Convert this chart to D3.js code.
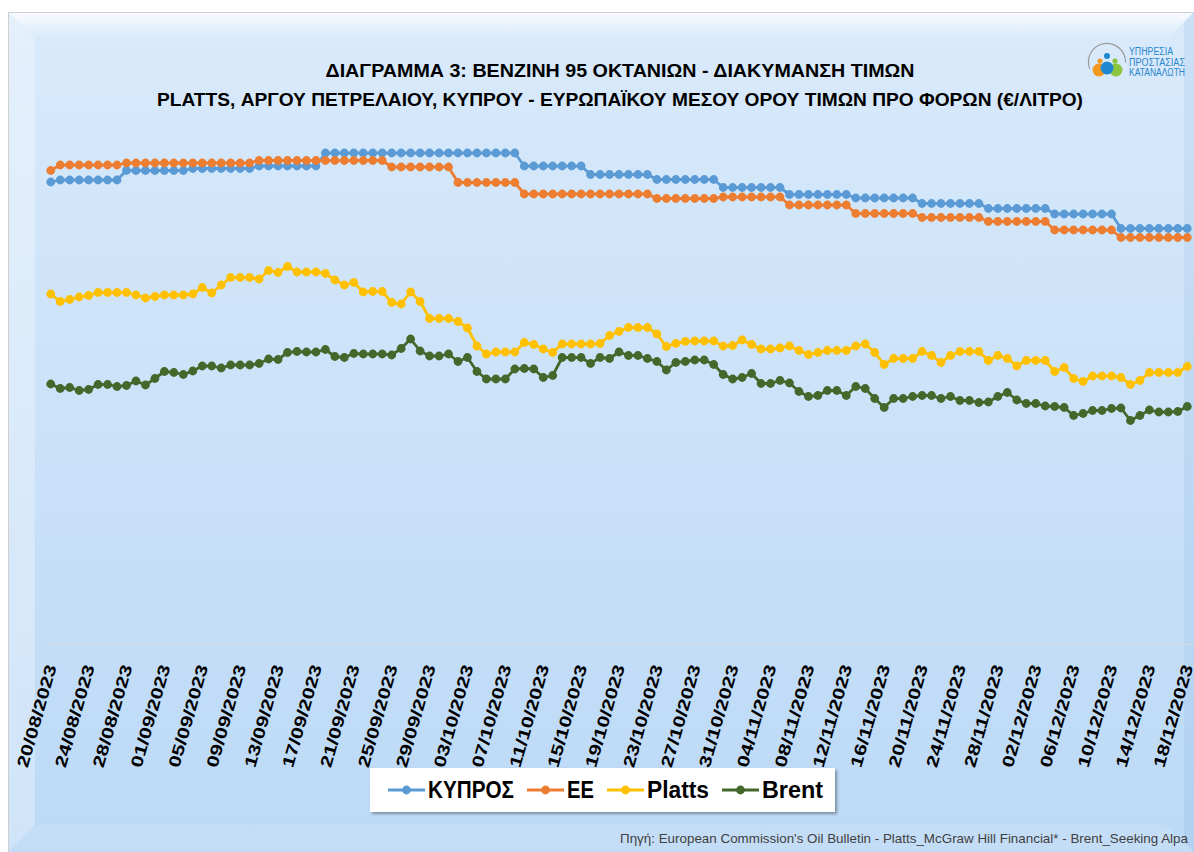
<!DOCTYPE html>
<html>
<head>
<meta charset="utf-8">
<script src="https://cdn.jsdelivr.net/npm/d3@7"></script>
<style>
  body { margin: 0; background: #fff; }
  svg { display: block; }
</style>
</head>
<body>
<svg id="chart"></svg>
<script>
const width = 1194
const height = 852

// category ticks, every 4th day
const tickLabels = [
  '20/08/2023', '24/08/2023', '28/08/2023', '01/09/2023', '05/09/2023', '09/09/2023',
  '13/09/2023', '17/09/2023', '21/09/2023', '25/09/2023', '29/09/2023', '03/10/2023',
  '07/10/2023', '11/10/2023', '15/10/2023', '19/10/2023', '23/10/2023', '27/10/2023',
  '31/10/2023', '04/11/2023', '08/11/2023', '12/11/2023', '16/11/2023', '20/11/2023',
  '24/11/2023', '28/11/2023', '02/12/2023', '06/12/2023', '10/12/2023', '14/12/2023',
  '18/12/2023'
]

// €/litre, one value per day (20/08 .. 18/12)
const cyprus = [
  0.924,
  0.928, 0.928, 0.928, 0.928, 0.928, 0.928, 0.928,
  0.947, 0.947, 0.947, 0.947, 0.947, 0.947, 0.947,
  0.951, 0.951, 0.951, 0.951, 0.951, 0.951, 0.951,
  0.956, 0.956, 0.956, 0.956, 0.956, 0.956, 0.956,
  0.982, 0.982, 0.982, 0.982, 0.982, 0.982, 0.982,
  0.982, 0.982, 0.982, 0.982, 0.982, 0.982, 0.982,
  0.982, 0.982, 0.982, 0.982, 0.982, 0.982, 0.982,
  0.956, 0.956, 0.956, 0.956, 0.956, 0.956, 0.956,
  0.939, 0.939, 0.939, 0.939, 0.939, 0.939, 0.939,
  0.929, 0.929, 0.929, 0.929, 0.929, 0.929, 0.929,
  0.913, 0.913, 0.913, 0.913, 0.913, 0.913, 0.913,
  0.899, 0.899, 0.899, 0.899, 0.899, 0.899, 0.899,
  0.892, 0.892, 0.892, 0.892, 0.892, 0.892, 0.892,
  0.881, 0.881, 0.881, 0.881, 0.881, 0.881, 0.881,
  0.871, 0.871, 0.871, 0.871, 0.871, 0.871, 0.871,
  0.860, 0.860, 0.860, 0.860, 0.860, 0.860, 0.860,
  0.831, 0.831, 0.831, 0.831, 0.831, 0.831, 0.831, 0.831
]

const eu = [
  0.947,
  0.958, 0.958, 0.958, 0.958, 0.958, 0.958, 0.958,
  0.962, 0.962, 0.962, 0.962, 0.962, 0.962, 0.962,
  0.962, 0.962, 0.962, 0.962, 0.962, 0.962, 0.962,
  0.967, 0.967, 0.967, 0.967, 0.967, 0.967, 0.967,
  0.967, 0.967, 0.967, 0.967, 0.967, 0.967, 0.967,
  0.954, 0.954, 0.954, 0.954, 0.954, 0.954, 0.954,
  0.923, 0.923, 0.923, 0.923, 0.923, 0.923, 0.923,
  0.900, 0.900, 0.900, 0.900, 0.900, 0.900, 0.900,
  0.900, 0.900, 0.900, 0.900, 0.900, 0.900, 0.900,
  0.891, 0.891, 0.891, 0.891, 0.891, 0.891, 0.891,
  0.894, 0.894, 0.894, 0.894, 0.894, 0.894, 0.894,
  0.878, 0.878, 0.878, 0.878, 0.878, 0.878, 0.878,
  0.861, 0.861, 0.861, 0.861, 0.861, 0.861, 0.861,
  0.853, 0.853, 0.853, 0.853, 0.853, 0.853, 0.853,
  0.845, 0.845, 0.845, 0.845, 0.845, 0.845, 0.845,
  0.828, 0.828, 0.828, 0.828, 0.828, 0.828, 0.828,
  0.813, 0.813, 0.813, 0.813, 0.813, 0.813, 0.813, 0.813
]

const platts = [
  0.700,
  0.685, 0.689, 0.694, 0.697, 0.703, 0.703, 0.703,
  0.703, 0.698, 0.692, 0.695, 0.698, 0.698, 0.698,
  0.700, 0.713, 0.702, 0.718, 0.733, 0.733, 0.733,
  0.730, 0.747, 0.743, 0.755, 0.744, 0.744, 0.744,
  0.741, 0.728, 0.718, 0.723, 0.704, 0.705, 0.705,
  0.683, 0.680, 0.704, 0.685, 0.651, 0.651, 0.651,
  0.645, 0.632, 0.596, 0.580, 0.584, 0.584, 0.584,
  0.603, 0.599, 0.590, 0.583, 0.600, 0.600, 0.600,
  0.600, 0.601, 0.617, 0.625, 0.633, 0.633, 0.633,
  0.620, 0.595, 0.601, 0.605, 0.606, 0.606, 0.606,
  0.596, 0.597, 0.608, 0.599, 0.590, 0.590, 0.592,
  0.596, 0.587, 0.579, 0.583, 0.587, 0.587, 0.587,
  0.596, 0.600, 0.583, 0.559, 0.571, 0.571, 0.571,
  0.585, 0.577, 0.563, 0.577, 0.585, 0.585, 0.585,
  0.567, 0.577, 0.571, 0.556, 0.567, 0.567, 0.567,
  0.545, 0.553, 0.531, 0.525, 0.536, 0.536, 0.536,
  0.533, 0.519, 0.527, 0.543, 0.543, 0.543, 0.543, 0.555
]

const brent = [
  0.520,
  0.511, 0.513, 0.507, 0.509, 0.519, 0.519, 0.515,
  0.517, 0.526, 0.518, 0.531, 0.545, 0.543, 0.539,
  0.546, 0.556, 0.556, 0.552, 0.558, 0.558, 0.558,
  0.561, 0.570, 0.569, 0.583, 0.585, 0.584, 0.584,
  0.589, 0.575, 0.573, 0.581, 0.580, 0.580, 0.580,
  0.578, 0.591, 0.610, 0.586, 0.576, 0.576, 0.580,
  0.565, 0.573, 0.545, 0.530, 0.530, 0.530, 0.550,
  0.551, 0.550, 0.533, 0.537, 0.573, 0.573, 0.573,
  0.561, 0.573, 0.571, 0.584, 0.577, 0.577, 0.571,
  0.565, 0.548, 0.563, 0.565, 0.568, 0.568, 0.559,
  0.539, 0.530, 0.533, 0.541, 0.521, 0.521, 0.527,
  0.522, 0.505, 0.495, 0.497, 0.507, 0.507, 0.497,
  0.515, 0.511, 0.491, 0.473, 0.491, 0.491, 0.495,
  0.497, 0.497, 0.491, 0.495, 0.487, 0.487, 0.483,
  0.484, 0.495, 0.503, 0.488, 0.481, 0.481, 0.476,
  0.475, 0.473, 0.457, 0.461, 0.467, 0.467, 0.471,
  0.472, 0.447, 0.457, 0.468, 0.464, 0.464, 0.465, 0.475
]

const seriesNames = ['ΚΥΠΡΟΣ', 'ΕΕ', 'Platts', 'Brent']
const seriesColors = ['#5b9bd5', '#ed7d31', '#ffc000', '#43682b']
const seriesValues = [cyprus, eu, platts, brent]

const titleLines = [
  'ΔΙΑΓΡΑΜΜΑ 3: ΒΕΝΖΙΝΗ 95 ΟΚΤΑΝΙΩΝ - ΔΙΑΚΥΜΑΝΣΗ ΤΙΜΩΝ',
  'PLATTS, ΑΡΓΟΥ ΠΕΤΡΕΛΑΙΟΥ, ΚΥΠΡΟΥ - ΕΥΡΩΠΑΪΚΟΥ ΜΕΣΟΥ ΟΡΟΥ ΤΙΜΩΝ ΠΡΟ ΦΟΡΩΝ (€/ΛΙΤΡΟ)'
]
const sourceNote = "Πηγή: European Commission's Oil Bulletin - Platts_McGraw Hill Financial* - Brent_Seeking Alpa"
const logoLines = ['ΥΠΗΡΕΣΙΑ', 'ΠΡΟΣΤΑΣΙΑΣ', 'ΚΑΤΑΝΑΛΩΤΗ']

const font = "'Liberation Sans', Arial, sans-serif"

/* SCALES */
const parseDate = d3.timeParse('%d/%m/%Y')
const fmtDate = d3.timeFormat('%d/%m/%Y')
const days = d3.timeDay.range(parseDate(tickLabels[0]),
  d3.timeDay.offset(parseDate(tickLabels[tickLabels.length - 1]), 1)).map(fmtDate)

const plot = { left: 46, right: 1192, top: 94, bottom: 644 }

const x = d3.scalePoint()
  .domain(days)
  .range([plot.left, plot.right])
  .padding(0.5)

const y = d3.scaleLinear()
  .domain([0, 1.1])
  .range([plot.bottom, plot.top])

const svg = d3.select('#chart')
  .attr('width', width)
  .attr('height', height)

const defs = svg.append('defs')

const bg = defs.append('linearGradient').attr('id', 'bg')
  .attr('x1', 0).attr('y1', 0).attr('x2', 0).attr('y2', 1)
bg.append('stop').attr('offset', '0%').attr('stop-color', '#d9eafb')
bg.append('stop').attr('offset', '100%').attr('stop-color', '#bcd9f6')

const topGlow = defs.append('linearGradient').attr('id', 'topGlow')
  .attr('x1', 0).attr('y1', 0).attr('x2', 0).attr('y2', 1)
topGlow.append('stop').attr('offset', '0%').attr('stop-color', '#fff').attr('stop-opacity', 0.85)
topGlow.append('stop').attr('offset', '100%').attr('stop-color', '#fff').attr('stop-opacity', 0)

const shadow = defs.append('filter').attr('id', 'shadow')
  .attr('x', '-10%').attr('y', '-30%').attr('width', '120%').attr('height', '160%')
shadow.append('feDropShadow')
  .attr('dx', 2).attr('dy', 2).attr('stdDeviation', 1.5)
  .attr('flood-color', '#000').attr('flood-opacity', 0.35)

/* FRAME */
const fx0 = 8, fy0 = 12, fx1 = 1194, fy1 = 852, bevel = 27

svg.append('rect')
  .attr('x', fx0).attr('y', fy0)
  .attr('width', fx1 - fx0).attr('height', fy1 - fy0)
  .attr('fill', 'url(#bg)')

svg.append('polygon')
  .attr('points', [[fx0, fy0], [fx1, fy0], [fx1 - bevel, fy0 + bevel], [fx0 + bevel, fy0 + bevel]].join(' '))
  .attr('fill', 'url(#topGlow)')

svg.append('polygon')
  .attr('points', [[fx0, fy0], [fx0 + bevel, fy0 + bevel], [fx0 + bevel, fy1 - bevel], [fx0, fy1]].join(' '))
  .attr('fill', '#fff').attr('fill-opacity', 0.3)

svg.append('polygon')
  .attr('points', [[fx0, fy1], [fx0 + bevel, fy1 - bevel], [fx1 - bevel, fy1 - bevel], [fx1, fy1]].join(' '))
  .attr('fill', '#fff').attr('fill-opacity', 0.12)

svg.append('polygon')
  .attr('points', [[fx1, fy0], [fx1 - 10, fy0 + 10], [fx1 - 10, fy1 - 10], [fx1, fy1]].join(' '))
  .attr('fill', '#6f9fce').attr('fill-opacity', 0.12)

svg.append('rect')
  .attr('x', fx0 + 0.5).attr('y', fy0 + 0.5)
  .attr('width', fx1 - fx0).attr('height', fy1 - fy0)
  .attr('fill', 'none')
  .attr('stroke', '#cfcfcf')

/* TITLE */
svg.append('g')
  .selectAll('text')
  .data(titleLines)
  .join('text')
  .attr('x', 620)
  .attr('y', (d, i) => 77 + i * 29)
  .attr('text-anchor', 'middle')
  .attr('font-family', font)
  .attr('font-weight', 'bold')
  .attr('font-size', 19)
  .attr('fill', '#000')
  .attr('textLength', (d, i) => [589, 926][i])
  .attr('lengthAdjust', 'spacingAndGlyphs')
  .text(d => d)

/* LOGO */
const logo = svg.append('g').attr('transform', 'translate(1107,62)')
logo.append('path')
  .attr('d', d3.arc()({ innerRadius: 18, outerRadius: 19.2, startAngle: -1.95, endAngle: 1.6 }))
  .attr('fill', '#9a9a9a')
logo.append('circle').attr('cx', -8).attr('cy', 8).attr('r', 6.5).attr('fill', '#f39a1e')
logo.append('circle').attr('cx', 9).attr('cy', 8).attr('r', 6.5).attr('fill', '#8cc63f')
logo.append('circle').attr('cx', 0).attr('cy', 6).attr('r', 6.5).attr('fill', '#1e88d0')
logo.append('circle').attr('cx', -7).attr('cy', -1).attr('r', 2.6).attr('fill', '#f39a1e')
logo.append('circle').attr('cx', 8).attr('cy', -1).attr('r', 2.6).attr('fill', '#8cc63f')
logo.append('circle').attr('cx', 0).attr('cy', -6).attr('r', 3).attr('fill', '#1e88d0')
logo.selectAll('text')
  .data(logoLines)
  .join('text')
  .attr('x', 22)
  .attr('y', (d, i) => -7 + i * 10.5)
  .attr('font-family', font)
  .attr('font-size', 10)
  .attr('fill', '#2a86cc')
  .attr('textLength', (d, i) => [44, 56, 56][i])
  .attr('lengthAdjust', 'spacingAndGlyphs')
  .text(d => d)

/* X AXIS */
const xAxis = d3.axisBottom(x)
  .tickValues(tickLabels)
  .tickSize(0)
  .tickSizeOuter(0)

const axisG = svg.append('g')
  .attr('transform', `translate(0,${plot.bottom})`)
  .call(xAxis)

axisG.select('.domain').attr('stroke', '#d9d9d9').attr('stroke-width', 1.2)
axisG.selectAll('.tick text')
  .attr('x', 0)
  .attr('y', 0)
  .attr('dy', '0.35em')
  .attr('transform', 'translate(0,21) rotate(-74)')
  .attr('text-anchor', 'end')
  .attr('font-family', font)
  .attr('font-weight', 'bold')
  .attr('font-size', 16.5)
  .attr('fill', '#000')
  .attr('textLength', 106)
  .attr('lengthAdjust', 'spacingAndGlyphs')

/* SERIES */
const line = d3.line()
  .x((d, i) => x(days[i]))
  .y(d => y(d))

const seriesG = svg.append('g')
  .selectAll('g')
  .data(seriesValues)
  .join('g')
  .attr('fill', (d, i) => seriesColors[i])
  .attr('stroke', (d, i) => seriesColors[i])

seriesG.append('path')
  .attr('d', d => line(d))
  .attr('fill', 'none')
  .attr('stroke-width', 2.8)
  .attr('stroke-linejoin', 'round')

seriesG.selectAll('circle')
  .data(d => d)
  .join('circle')
  .attr('cx', (d, i) => x(days[i]))
  .attr('cy', d => y(d))
  .attr('r', 4.4)
  .attr('stroke', 'none')

/* LEGEND */
const legend = svg.append('g')
legend.append('rect')
  .attr('x', 370).attr('y', 768)
  .attr('width', 465).attr('height', 44)
  .attr('fill', '#fff')
  .attr('filter', 'url(#shadow)')

// label widths as drawn in the original legend
const legendTextWidths = [86, 27, 62, 61]
let lx = 388
seriesNames.forEach((name, i) => {
  const item = legend.append('g')
  item.append('line')
    .attr('x1', lx).attr('x2', lx + 37)
    .attr('y1', 790).attr('y2', 790)
    .attr('stroke', seriesColors[i])
    .attr('stroke-width', 3)
  item.append('circle')
    .attr('cx', lx + 18.5).attr('cy', 790).attr('r', 4.4)
    .attr('fill', seriesColors[i])
  item.append('text')
    .attr('x', lx + 40)
    .attr('y', 798)
    .attr('font-family', font)
    .attr('font-weight', 'bold')
    .attr('font-size', 23)
    .attr('fill', '#000')
    .attr('textLength', legendTextWidths[i])
    .attr('lengthAdjust', 'spacingAndGlyphs')
    .text(name)
  lx += 40 + legendTextWidths[i] + 13
})

/* SOURCE */
svg.append('text')
  .attr('x', 1188)
  .attr('y', 843)
  .attr('text-anchor', 'end')
  .attr('font-family', font)
  .attr('font-size', 13.5)
  .attr('fill', '#404040')
  .attr('textLength', 568)
  .attr('lengthAdjust', 'spacingAndGlyphs')
  .text(sourceNote)
</script>
</body>
</html>
